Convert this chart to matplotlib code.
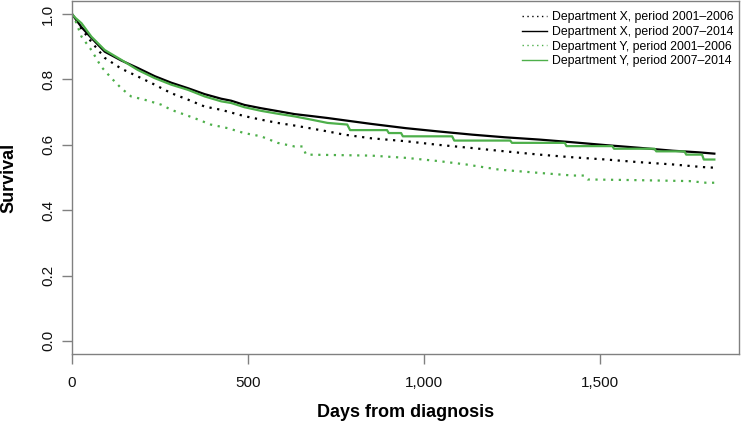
import matplotlib
matplotlib.use('Agg')
import matplotlib.pyplot as plt

plt.rcParams['font.family'] = ['Liberation Sans', 'DejaVu Sans']

# Kaplan-Meier curves (days, survival);
# a repeated level followed by a lower one marks a visible step
x_old_days = [0, 10, 27, 55, 93, 140, 187, 235, 282, 330, 377, 424, 489,
              537, 584, 632, 680, 726, 774, 850, 948, 1040, 1138, 1230,
              1328, 1420, 1517, 1610, 1706, 1790, 1825]
x_old_surv = [1.0, 0.98, 0.955, 0.915, 0.866, 0.833, 0.809, 0.784, 0.758,
              0.738, 0.717, 0.707, 0.688, 0.677, 0.667, 0.659, 0.65, 0.641,
              0.631, 0.62, 0.611, 0.60, 0.59, 0.58, 0.57, 0.562, 0.555,
              0.547, 0.54, 0.532, 0.53]

x_new_days = [0, 10, 27, 55, 93, 140, 187, 235, 282, 330, 377, 424, 452,
              490, 537, 585, 632, 680, 726, 774, 850, 948, 1040, 1138, 1230,
              1328, 1420, 1517, 1610, 1706, 1780, 1825]
x_new_surv = [1.0, 0.985, 0.96, 0.927, 0.885, 0.858, 0.835, 0.81, 0.79,
              0.773, 0.755, 0.741, 0.735, 0.722, 0.712, 0.703, 0.694, 0.688,
              0.682, 0.675, 0.664, 0.651, 0.641, 0.631, 0.623, 0.616, 0.608,
              0.599, 0.591, 0.582, 0.577, 0.573]

y_old_days = [0, 9, 27, 55, 83, 112, 140, 168, 206, 253, 282, 347, 394, 442,
              489, 537, 584, 632, 655, 665, 850, 950, 1043, 1119, 1214, 1328,
              1423, 1455, 1465, 1600, 1754, 1801, 1825]
y_old_surv = [1.0, 0.982, 0.931, 0.89, 0.839, 0.804, 0.773, 0.748, 0.738,
              0.723, 0.707, 0.682, 0.662, 0.651, 0.636, 0.626, 0.606, 0.595,
              0.595, 0.57, 0.567, 0.56, 0.55, 0.54, 0.524, 0.514, 0.506,
              0.506, 0.494, 0.492, 0.489, 0.484, 0.484]

y_new_days = [0, 10, 27, 55, 93, 140, 187, 235, 282, 330, 377, 424, 452, 490,
              537, 585, 632, 680, 726, 782, 790, 895, 900, 935, 940, 1080,
              1086, 1245, 1250, 1400, 1405, 1535, 1540, 1655, 1660, 1740,
              1745, 1790, 1795, 1825]
y_new_surv = [1.0, 0.988, 0.972, 0.931, 0.89, 0.86, 0.829, 0.804, 0.784,
              0.768, 0.748, 0.733, 0.728, 0.715, 0.704, 0.695, 0.687, 0.677,
              0.667, 0.662, 0.645, 0.645, 0.636, 0.636, 0.626, 0.626, 0.613,
              0.613, 0.606, 0.606, 0.596, 0.596, 0.588, 0.588, 0.58, 0.58,
              0.57, 0.57, 0.555, 0.555]

labels = ['Department X, period 2001\u20132006',
          'Department X, period 2007\u20132014',
          'Department Y, period 2001\u20132006',
          'Department Y, period 2007\u20132014']

x_ticks = [0, 500, 1000, 1500]
x_ticklabels = ['0', '500', '1,000', '1,500']
y_ticks = [0.0, 0.2, 0.4, 0.6, 0.8, 1.0]

GREEN = '#4daf4a'
DOT = (0, (1, 2.5))
AXC = '#808080'

fig = plt.figure(figsize=(7.41, 4.25), dpi=100)
ax = fig.add_axes([72 / 741, 1 - 354 / 425, 667 / 741, 353 / 425])

series = [(x_old_days, x_old_surv, 'black', DOT),
          (x_new_days, x_new_surv, 'black', '-'),
          (y_old_days, y_old_surv, GREEN, DOT),
          (y_new_days, y_new_surv, GREEN, '-')]
for d, s, c, ls in series:
    ax.plot(d, s, color=c, ls=ls, lw=1.6)

ax.set_xlim(0, 1895)
ax.set_ylim(-0.04, 1.04)
ax.set_xticks(x_ticks)
ax.set_xticklabels(x_ticklabels)
ax.set_yticks(y_ticks)
ax.set_yticklabels([f'{v:.1f}' for v in y_ticks], rotation=90, va='center')
ax.tick_params(colors=AXC, labelcolor='#111111', labelsize=11, length=7,
               width=1)
ax.tick_params(axis='y', pad=5)
ax.tick_params(axis='x', pad=9)
for sp in ax.spines.values():
    sp.set_color(AXC)
    sp.set_linewidth(1)

ax.set_xlabel('Days from diagnosis', fontsize=13, fontweight='bold',
              labelpad=10)
ax.set_ylabel('Survival', fontsize=13, fontweight='bold', labelpad=17)

# legend with thin handles
handles = [plt.Line2D([], [], color=c, ls=ls, lw=1)
           for _, _, c, ls in series]
ax.legend(handles, labels, loc='upper right', frameon=False, fontsize=8.8,
          bbox_to_anchor=(1.004, 0.995), borderaxespad=0.3,
          handlelength=2.05, handletextpad=0.35, labelspacing=0.22)

fig.savefig('out.png', dpi=100)
